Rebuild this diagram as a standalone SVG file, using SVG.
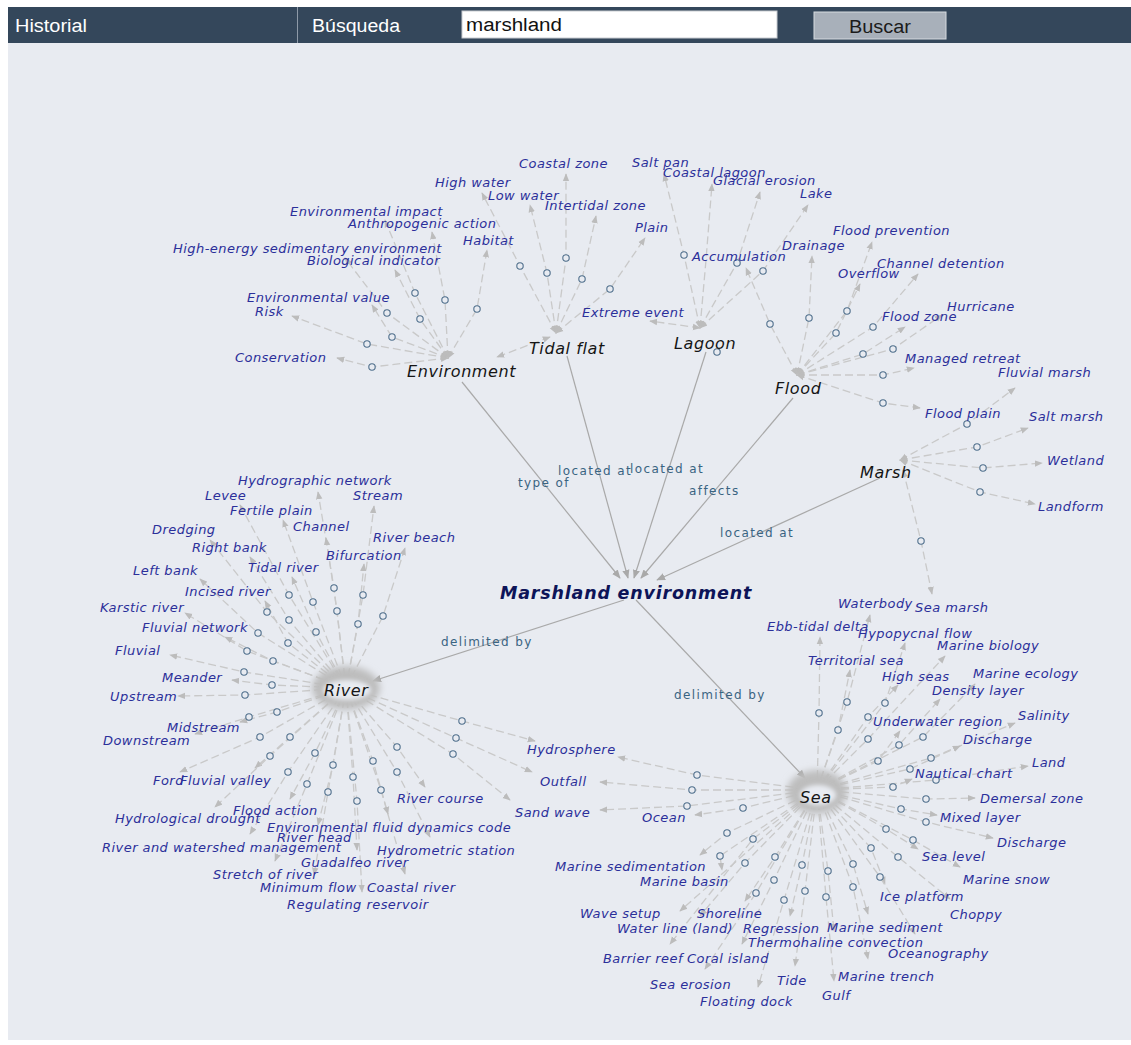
<svg xmlns="http://www.w3.org/2000/svg" width="1131" height="1045" viewBox="0 0 1131 1045">
<defs>
<style>
.lf{font-family:"DejaVu Sans",Verdana,sans-serif;font-size:13px;font-style:italic;fill:#2b2f9a;letter-spacing:0.45px}
.hb{font-family:"DejaVu Sans",Verdana,sans-serif;font-size:16px;font-style:italic;fill:#151515;letter-spacing:0.6px}
.rl{font-family:"DejaVu Sans",Verdana,sans-serif;font-size:12px;fill:#3a6482;letter-spacing:1.4px}
.d{fill:none;stroke:#c9c9c9;stroke-width:1.3;stroke-dasharray:8 4;marker-start:url(#ah);marker-end:url(#ah)}
.m{fill:none;stroke:#a9a9a9;stroke-width:1.2;marker-end:url(#am)}
.c{fill:#e8ebf1;stroke:#4f6f8c;stroke-width:1.1}
.hd{font-family:"Liberation Sans",Arial,sans-serif;font-size:18px}
</style>
<marker id="ah" viewBox="0 0 10 10" refX="9" refY="5" markerWidth="8" markerHeight="8" markerUnits="userSpaceOnUse" orient="auto-start-reverse"><path d="M0,1L10,5L0,9z" fill="#bcbcbc"/></marker>
<marker id="am" viewBox="0 0 10 10" refX="9" refY="5" markerWidth="9" markerHeight="9" markerUnits="userSpaceOnUse" orient="auto"><path d="M0,1L10,5L0,9z" fill="#a9a9a9"/></marker>
<filter id="bl" x="-50%" y="-50%" width="200%" height="200%"><feGaussianBlur stdDeviation="3.5"/></filter>
<filter id="bl2" x="-50%" y="-50%" width="200%" height="200%"><feGaussianBlur stdDeviation="2"/></filter>
</defs>
<rect width="1131" height="1045" fill="#ffffff"/>
<rect x="8" y="43" width="1123" height="997" fill="#e8ebf1"/>
<g id="header">
<rect x="8" y="7" width="1123" height="36" fill="#34475b"/>
<line x1="297.5" y1="7" x2="297.5" y2="43" stroke="#8e9aa8"/>
<text class="hd" x="15" y="32" fill="#ffffff" textLength="72" lengthAdjust="spacingAndGlyphs">Historial</text>
<text class="hd" x="312" y="32" fill="#ffffff" textLength="88" lengthAdjust="spacingAndGlyphs">Búsqueda</text>
<rect x="462" y="11" width="315" height="27" fill="#ffffff" stroke="#c9cdd2"/>
<text class="hd" x="466" y="31" fill="#111111" textLength="96" lengthAdjust="spacingAndGlyphs">marshland</text>
<rect x="814" y="12" width="132" height="27" fill="#a8b0ba" stroke="#d6dbe0"/>
<text class="hd" x="849" y="33" fill="#1b1b1b" textLength="62" lengthAdjust="spacingAndGlyphs">Buscar</text>
</g>
<g id="connectors">
<path class="m" d="M462 382L620 578"/>
<path class="m" d="M567 356L628 578"/>
<path class="m" d="M706 352L634 578"/>
<path class="m" d="M793 398L641 578"/>
<path class="m" d="M880 478L657 580"/>
<path class="m" d="M624 600L373 681"/>
<path class="m" d="M636 600L805 778"/>
<path class="d" d="M448 358L372 367L337 358"/>
<path class="d" d="M448 358L367 344L292 316"/>
<path class="d" d="M448 358L392 337L372 305"/>
<path class="d" d="M448 358L387 313L345 258"/>
<path class="d" d="M448 358L420 319L395 270"/>
<path class="d" d="M448 358L415 293L385 220"/>
<path class="d" d="M448 358L445 300L432 232"/>
<path class="d" d="M448 358L477 309L487 250"/>
<path class="d" d="M556 333L520 266L482 193"/>
<path class="d" d="M556 333L547 273L530 205"/>
<path class="d" d="M556 333L566 258L566 174"/>
<path class="d" d="M556 333L582 279L596 216"/>
<path class="d" d="M556 333L610 289L645 238"/>
<path class="d" d="M550 337L497 357"/>
<path class="d" d="M700 328L684 255L664 174"/>
<path class="d" d="M700 328L706 260L712 184"/>
<path class="d" d="M700 328L737 263L760 192"/>
<path class="d" d="M700 328L763 271L808 205"/>
<path class="d" d="M700 328L650 321"/>
<path class="d" d="M797 375L770 324L746 268"/>
<path class="d" d="M797 375L809 318L812 256"/>
<path class="d" d="M797 375L847 311L872 242"/>
<path class="d" d="M797 375L836 333L860 284"/>
<path class="d" d="M797 375L873 327L918 274"/>
<path class="d" d="M797 375L863 354L905 327"/>
<path class="d" d="M797 375L893 349L942 315"/>
<path class="d" d="M797 375L883 375L914 368"/>
<path class="d" d="M797 375L883 403L920 408"/>
<path class="d" d="M900 460L967 424L1015 388"/>
<path class="d" d="M900 460L977 447L1028 428"/>
<path class="d" d="M900 460L983 468L1042 463"/>
<path class="d" d="M900 460L980 492L1035 504"/>
<path class="d" d="M903 470L921 541L932 594"/>
<path class="d" d="M346 688L334 588L318 492"/>
<path class="d" d="M346 688L337 611L326 538"/>
<path class="d" d="M346 688L363 595L374 506"/>
<path class="d" d="M346 688L358 624L364 564"/>
<path class="d" d="M346 688L383 616L405 548"/>
<path class="d" d="M346 688L313 602L283 520"/>
<path class="d" d="M346 688L316 632L292 577"/>
<path class="d" d="M346 688L289 595L240 505"/>
<path class="d" d="M346 688L289 620L250 557"/>
<path class="d" d="M346 688L267 612L210 540"/>
<path class="d" d="M346 688L288 643L265 601"/>
<path class="d" d="M346 688L258 633L200 579"/>
<path class="d" d="M346 688L247 651L185 613"/>
<path class="d" d="M346 688L273 661L225 637"/>
<path class="d" d="M346 688L244 672L170 655"/>
<path class="d" d="M346 688L272 685L232 680"/>
<path class="d" d="M346 688L245 695L178 696"/>
<path class="d" d="M346 688L277 712L240 722"/>
<path class="d" d="M346 688L249 717L195 734"/>
<path class="d" d="M346 688L260 737L180 772"/>
<path class="d" d="M346 688L290 737L255 768"/>
<path class="d" d="M346 688L270 756L215 807"/>
<path class="d" d="M346 688L288 772L250 834"/>
<path class="d" d="M346 688L315 753L290 799"/>
<path class="d" d="M346 688L307 784L275 861"/>
<path class="d" d="M346 688L333 765L318 825"/>
<path class="d" d="M346 688L328 792L314 875"/>
<path class="d" d="M346 688L353 777L357 850"/>
<path class="d" d="M346 688L357 801L362 892"/>
<path class="d" d="M346 688L381 790L405 874"/>
<path class="d" d="M346 688L373 761L388 814"/>
<path class="d" d="M346 688L397 772L430 837"/>
<path class="d" d="M346 688L397 747L425 787"/>
<path class="d" d="M346 688L462 721L535 741"/>
<path class="d" d="M346 688L456 738L532 772"/>
<path class="d" d="M346 688L453 754L510 800"/>
<path class="d" d="M817 790L819 713L820 637"/>
<path class="d" d="M817 790L847 702L870 615"/>
<path class="d" d="M817 790L838 730L850 670"/>
<path class="d" d="M817 790L885 703L905 643"/>
<path class="d" d="M817 790L868 717L898 685"/>
<path class="d" d="M817 790L868 739L945 656"/>
<path class="d" d="M817 790L923 737L975 684"/>
<path class="d" d="M817 790L899 745L940 699"/>
<path class="d" d="M817 790L878 761L900 731"/>
<path class="d" d="M817 790L931 758L1015 723"/>
<path class="d" d="M817 790L910 769L960 746"/>
<path class="d" d="M817 790L936 780L1028 766"/>
<path class="d" d="M817 790L893 787L912 779"/>
<path class="d" d="M817 790L926 799L975 798"/>
<path class="d" d="M817 790L901 809L937 815"/>
<path class="d" d="M817 790L926 822L993 838"/>
<path class="d" d="M817 790L886 829L918 849"/>
<path class="d" d="M817 790L913 840L960 867"/>
<path class="d" d="M817 790L898 857L950 899"/>
<path class="d" d="M817 790L871 848L885 884"/>
<path class="d" d="M817 790L880 877L915 934"/>
<path class="d" d="M817 790L853 864L868 914"/>
<path class="d" d="M817 790L853 887L868 959"/>
<path class="d" d="M817 790L828 871L834 931"/>
<path class="d" d="M817 790L826 897L834 981"/>
<path class="d" d="M817 790L805 891L795 966"/>
<path class="d" d="M817 790L802 865L790 916"/>
<path class="d" d="M817 790L784 900L758 987"/>
<path class="d" d="M817 790L774 880L742 944"/>
<path class="d" d="M817 790L756 893L705 969"/>
<path class="d" d="M817 790L775 857L745 901"/>
<path class="d" d="M817 790L745 863L700 916"/>
<path class="d" d="M817 790L753 839L670 944"/>
<path class="d" d="M817 790L720 856L722 870"/>
<path class="d" d="M817 790L727 833L700 855"/>
<path class="d" d="M817 790L680 911"/>
<path class="d" d="M817 790L743 808L695 815"/>
<path class="d" d="M817 790L697 775L618 757"/>
<path class="d" d="M817 790L692 790L600 782"/>
<path class="d" d="M817 790L687 806L600 810"/>
<g>
<circle class="c" cx="372" cy="367" r="3.2"/><circle class="c" cx="367" cy="344" r="3.2"/><circle class="c" cx="392" cy="337" r="3.2"/><circle class="c" cx="387" cy="313" r="3.2"/><circle class="c" cx="420" cy="319" r="3.2"/><circle class="c" cx="415" cy="293" r="3.2"/><circle class="c" cx="445" cy="300" r="3.2"/><circle class="c" cx="477" cy="309" r="3.2"/>
<circle class="c" cx="520" cy="266" r="3.2"/><circle class="c" cx="547" cy="273" r="3.2"/><circle class="c" cx="566" cy="258" r="3.2"/><circle class="c" cx="582" cy="279" r="3.2"/><circle class="c" cx="610" cy="289" r="3.2"/>
<circle class="c" cx="684" cy="255" r="3.2"/><circle class="c" cx="737" cy="263" r="3.2"/><circle class="c" cx="763" cy="271" r="3.2"/><circle class="c" cx="717" cy="352" r="3.2"/>
<circle class="c" cx="770" cy="324" r="3.2"/><circle class="c" cx="809" cy="318" r="3.2"/><circle class="c" cx="847" cy="311" r="3.2"/><circle class="c" cx="836" cy="333" r="3.2"/><circle class="c" cx="873" cy="327" r="3.2"/><circle class="c" cx="863" cy="354" r="3.2"/><circle class="c" cx="893" cy="349" r="3.2"/><circle class="c" cx="883" cy="375" r="3.2"/><circle class="c" cx="883" cy="403" r="3.2"/>
<circle class="c" cx="967" cy="424" r="3.2"/><circle class="c" cx="977" cy="447" r="3.2"/><circle class="c" cx="983" cy="468" r="3.2"/><circle class="c" cx="980" cy="492" r="3.2"/><circle class="c" cx="921" cy="541" r="3.2"/>
<circle class="c" cx="334" cy="588" r="3.2"/><circle class="c" cx="337" cy="611" r="3.2"/><circle class="c" cx="363" cy="595" r="3.2"/><circle class="c" cx="358" cy="624" r="3.2"/><circle class="c" cx="383" cy="616" r="3.2"/><circle class="c" cx="313" cy="602" r="3.2"/><circle class="c" cx="316" cy="632" r="3.2"/><circle class="c" cx="289" cy="595" r="3.2"/><circle class="c" cx="289" cy="620" r="3.2"/><circle class="c" cx="267" cy="612" r="3.2"/><circle class="c" cx="288" cy="643" r="3.2"/><circle class="c" cx="258" cy="633" r="3.2"/><circle class="c" cx="247" cy="651" r="3.2"/><circle class="c" cx="273" cy="661" r="3.2"/><circle class="c" cx="244" cy="672" r="3.2"/><circle class="c" cx="272" cy="685" r="3.2"/><circle class="c" cx="245" cy="695" r="3.2"/><circle class="c" cx="277" cy="712" r="3.2"/><circle class="c" cx="249" cy="717" r="3.2"/>
<circle class="c" cx="260" cy="737" r="3.2"/><circle class="c" cx="290" cy="737" r="3.2"/><circle class="c" cx="270" cy="756" r="3.2"/><circle class="c" cx="288" cy="772" r="3.2"/><circle class="c" cx="315" cy="753" r="3.2"/><circle class="c" cx="307" cy="784" r="3.2"/><circle class="c" cx="333" cy="765" r="3.2"/><circle class="c" cx="328" cy="792" r="3.2"/><circle class="c" cx="353" cy="777" r="3.2"/><circle class="c" cx="357" cy="801" r="3.2"/><circle class="c" cx="381" cy="790" r="3.2"/><circle class="c" cx="373" cy="761" r="3.2"/><circle class="c" cx="397" cy="772" r="3.2"/><circle class="c" cx="397" cy="747" r="3.2"/><circle class="c" cx="462" cy="721" r="3.2"/><circle class="c" cx="456" cy="738" r="3.2"/><circle class="c" cx="453" cy="754" r="3.2"/>
<circle class="c" cx="819" cy="713" r="3.2"/><circle class="c" cx="847" cy="702" r="3.2"/><circle class="c" cx="838" cy="730" r="3.2"/><circle class="c" cx="885" cy="703" r="3.2"/><circle class="c" cx="868" cy="717" r="3.2"/><circle class="c" cx="868" cy="739" r="3.2"/><circle class="c" cx="923" cy="737" r="3.2"/><circle class="c" cx="899" cy="745" r="3.2"/><circle class="c" cx="878" cy="761" r="3.2"/><circle class="c" cx="931" cy="758" r="3.2"/><circle class="c" cx="910" cy="769" r="3.2"/><circle class="c" cx="936" cy="780" r="3.2"/><circle class="c" cx="893" cy="787" r="3.2"/><circle class="c" cx="926" cy="799" r="3.2"/><circle class="c" cx="901" cy="809" r="3.2"/><circle class="c" cx="926" cy="822" r="3.2"/><circle class="c" cx="886" cy="829" r="3.2"/><circle class="c" cx="913" cy="840" r="3.2"/><circle class="c" cx="898" cy="857" r="3.2"/><circle class="c" cx="871" cy="848" r="3.2"/><circle class="c" cx="880" cy="877" r="3.2"/><circle class="c" cx="853" cy="864" r="3.2"/>
<circle class="c" cx="853" cy="887" r="3.2"/><circle class="c" cx="828" cy="871" r="3.2"/><circle class="c" cx="826" cy="897" r="3.2"/><circle class="c" cx="805" cy="891" r="3.2"/><circle class="c" cx="802" cy="865" r="3.2"/><circle class="c" cx="784" cy="900" r="3.2"/><circle class="c" cx="774" cy="880" r="3.2"/><circle class="c" cx="756" cy="893" r="3.2"/><circle class="c" cx="775" cy="857" r="3.2"/><circle class="c" cx="745" cy="863" r="3.2"/><circle class="c" cx="753" cy="839" r="3.2"/><circle class="c" cx="720" cy="856" r="3.2"/><circle class="c" cx="727" cy="833" r="3.2"/><circle class="c" cx="743" cy="808" r="3.2"/><circle class="c" cx="697" cy="775" r="3.2"/><circle class="c" cx="692" cy="790" r="3.2"/><circle class="c" cx="687" cy="806" r="3.2"/>
</g>
<text class="rl" x="518" y="487">type of</text>
<text class="rl" x="558" y="475">located at</text>
<text class="rl" x="630" y="473">located at</text>
<text class="rl" x="689" y="495">affects</text>
<text class="rl" x="720" y="537">located at</text>
<text class="rl" x="441" y="646">delimited by</text>
<text class="rl" x="674" y="699">delimited by</text>
</g>
<g id="hub-glow">
<ellipse cx="346" cy="688" rx="34" ry="22" fill="#bdbdbd" filter="url(#bl)"/>
<ellipse cx="347" cy="690" rx="24" ry="10" fill="#e8ebf1" filter="url(#bl2)"/>
<ellipse cx="817" cy="792" rx="30" ry="22" fill="#bdbdbd" filter="url(#bl)"/>
<ellipse cx="818" cy="795" rx="18" ry="10" fill="#e8ebf1" filter="url(#bl2)"/>
</g>
<g id="n-marshland-environment"><text x="500" y="599" style="font-family:'DejaVu Sans',Verdana,sans-serif;font-size:17.5px;font-weight:bold;font-style:italic;fill:#0d1458;letter-spacing:0.8px">Marshland environment</text></g>
<g id="n-environment"><text class="hb" x="407" y="377">Environment</text></g>
<g id="n-tidal-flat"><text class="hb" x="529" y="354">Tidal flat</text></g>
<g id="n-lagoon"><text class="hb" x="674" y="349">Lagoon</text></g>
<g id="n-flood"><text class="hb" x="775" y="394">Flood</text></g>
<g id="n-marsh"><text class="hb" x="860" y="478">Marsh</text></g>
<g id="n-river"><text class="hb" x="324" y="696">River</text></g>
<g id="n-sea"><text class="hb" x="800" y="803">Sea</text></g>
<g id="leaves">
<g id="n-env-impact"><text class="lf" x="290" y="216">Environmental impact</text></g>
<g id="n-anthropogenic"><text class="lf" x="348" y="228">Anthropogenic action</text></g>
<g id="n-habitat"><text class="lf" x="463" y="245">Habitat</text></g>
<g id="n-high-energy"><text class="lf" x="173" y="253">High-energy sedimentary environment</text></g>
<g id="n-bio-indicator"><text class="lf" x="307" y="265">Biological indicator</text></g>
<g id="n-env-value"><text class="lf" x="247" y="302">Environmental value</text></g>
<g id="n-risk"><text class="lf" x="255" y="316">Risk</text></g>
<g id="n-conservation"><text class="lf" x="235" y="362">Conservation</text></g>
<g id="n-high-water"><text class="lf" x="435" y="187">High water</text></g>
<g id="n-low-water"><text class="lf" x="488" y="200">Low water</text></g>
<g id="n-coastal-zone"><text class="lf" x="519" y="168">Coastal zone</text></g>
<g id="n-intertidal"><text class="lf" x="545" y="210">Intertidal zone</text></g>
<g id="n-plain"><text class="lf" x="635" y="232">Plain</text></g>
<g id="n-salt-pan"><text class="lf" x="632" y="167">Salt pan</text></g>
<g id="n-coastal-lagoon"><text class="lf" x="663" y="177">Coastal lagoon</text></g>
<g id="n-glacial"><text class="lf" x="713" y="185">Glacial erosion</text></g>
<g id="n-lake"><text class="lf" x="800" y="198">Lake</text></g>
<g id="n-extreme"><text class="lf" x="582" y="317">Extreme event</text></g>
<g id="n-accumulation"><text class="lf" x="692" y="261">Accumulation</text></g>
<g id="n-drainage"><text class="lf" x="782" y="250">Drainage</text></g>
<g id="n-flood-prevention"><text class="lf" x="833" y="235">Flood prevention</text></g>
<g id="n-overflow"><text class="lf" x="838" y="278">Overflow</text></g>
<g id="n-channel-detention"><text class="lf" x="877" y="268">Channel detention</text></g>
<g id="n-hurricane"><text class="lf" x="947" y="311">Hurricane</text></g>
<g id="n-flood-zone"><text class="lf" x="882" y="321">Flood zone</text></g>
<g id="n-managed-retreat"><text class="lf" x="905" y="363">Managed retreat</text></g>
<g id="n-fluvial-marsh"><text class="lf" x="998" y="377">Fluvial marsh</text></g>
<g id="n-flood-plain"><text class="lf" x="925" y="418">Flood plain</text></g>
<g id="n-salt-marsh"><text class="lf" x="1029" y="421">Salt marsh</text></g>
<g id="n-wetland"><text class="lf" x="1047" y="465">Wetland</text></g>
<g id="n-landform"><text class="lf" x="1038" y="511">Landform</text></g>
<g id="n-sea-marsh"><text class="lf" x="915" y="612">Sea marsh</text></g>
<g id="n-hydrographic"><text class="lf" x="238" y="485">Hydrographic network</text></g>
<g id="n-levee"><text class="lf" x="205" y="500">Levee</text></g>
<g id="n-stream"><text class="lf" x="353" y="500">Stream</text></g>
<g id="n-fertile"><text class="lf" x="230" y="515">Fertile plain</text></g>
<g id="n-dredging"><text class="lf" x="152" y="534">Dredging</text></g>
<g id="n-channel"><text class="lf" x="293" y="531">Channel</text></g>
<g id="n-river-beach"><text class="lf" x="373" y="542">River beach</text></g>
<g id="n-right-bank"><text class="lf" x="192" y="552">Right bank</text></g>
<g id="n-bifurcation"><text class="lf" x="326" y="560">Bifurcation</text></g>
<g id="n-left-bank"><text class="lf" x="133" y="575">Left bank</text></g>
<g id="n-tidal-river"><text class="lf" x="248" y="572">Tidal river</text></g>
<g id="n-incised"><text class="lf" x="185" y="596">Incised river</text></g>
<g id="n-karstic"><text class="lf" x="100" y="612">Karstic river</text></g>
<g id="n-fluvial-network"><text class="lf" x="142" y="632">Fluvial network</text></g>
<g id="n-fluvial"><text class="lf" x="115" y="655">Fluvial</text></g>
<g id="n-meander"><text class="lf" x="162" y="682">Meander</text></g>
<g id="n-upstream"><text class="lf" x="110" y="701">Upstream</text></g>
<g id="n-midstream"><text class="lf" x="167" y="732">Midstream</text></g>
<g id="n-downstream"><text class="lf" x="103" y="745">Downstream</text></g>
<g id="n-ford"><text class="lf" x="153" y="785">Ford</text></g>
<g id="n-fluvial-valley"><text class="lf" x="180" y="785">Fluvial valley</text></g>
<g id="n-flood-action"><text class="lf" x="233" y="815">Flood action</text></g>
<g id="n-hydro-drought"><text class="lf" x="115" y="823">Hydrological drought</text></g>
<g id="n-efdc"><text class="lf" x="267" y="832">Environmental fluid dynamics code</text></g>
<g id="n-river-head"><text class="lf" x="277" y="842">River head</text></g>
<g id="n-rwm"><text class="lf" x="102" y="852">River and watershed management</text></g>
<g id="n-hydrometric"><text class="lf" x="377" y="855">Hydrometric station</text></g>
<g id="n-guadalfeo"><text class="lf" x="301" y="867">Guadalfeo river</text></g>
<g id="n-stretch"><text class="lf" x="213" y="879">Stretch of river</text></g>
<g id="n-min-flow"><text class="lf" x="260" y="892">Minimum flow</text></g>
<g id="n-coastal-river"><text class="lf" x="367" y="892">Coastal river</text></g>
<g id="n-regulating"><text class="lf" x="287" y="909">Regulating reservoir</text></g>
<g id="n-river-course"><text class="lf" x="397" y="803">River course</text></g>
<g id="n-hydrosphere"><text class="lf" x="527" y="754">Hydrosphere</text></g>
<g id="n-outfall"><text class="lf" x="540" y="786">Outfall</text></g>
<g id="n-sand-wave"><text class="lf" x="515" y="817">Sand wave</text></g>
<g id="n-ocean"><text class="lf" x="642" y="822">Ocean</text></g>
<g id="n-waterbody"><text class="lf" x="838" y="608">Waterbody</text></g>
<g id="n-ebb"><text class="lf" x="767" y="631">Ebb-tidal delta</text></g>
<g id="n-hypopycnal"><text class="lf" x="858" y="638">Hypopycnal flow</text></g>
<g id="n-marine-biology"><text class="lf" x="937" y="650">Marine biology</text></g>
<g id="n-territorial"><text class="lf" x="808" y="665">Territorial sea</text></g>
<g id="n-high-seas"><text class="lf" x="882" y="681">High seas</text></g>
<g id="n-marine-ecology"><text class="lf" x="973" y="678">Marine ecology</text></g>
<g id="n-density"><text class="lf" x="932" y="695">Density layer</text></g>
<g id="n-underwater"><text class="lf" x="873" y="726">Underwater region</text></g>
<g id="n-salinity"><text class="lf" x="1018" y="720">Salinity</text></g>
<g id="n-discharge1"><text class="lf" x="963" y="744">Discharge</text></g>
<g id="n-land"><text class="lf" x="1032" y="767">Land</text></g>
<g id="n-nautical"><text class="lf" x="915" y="778">Nautical chart</text></g>
<g id="n-demersal"><text class="lf" x="980" y="803">Demersal zone</text></g>
<g id="n-mixed"><text class="lf" x="940" y="822">Mixed layer</text></g>
<g id="n-discharge2"><text class="lf" x="997" y="847">Discharge</text></g>
<g id="n-sea-level"><text class="lf" x="922" y="861">Sea level</text></g>
<g id="n-marine-snow"><text class="lf" x="963" y="884">Marine snow</text></g>
<g id="n-ice"><text class="lf" x="880" y="901">Ice platform</text></g>
<g id="n-choppy"><text class="lf" x="950" y="919">Choppy</text></g>
<g id="n-marine-sedimentation"><text class="lf" x="555" y="871">Marine sedimentation</text></g>
<g id="n-marine-basin"><text class="lf" x="640" y="886">Marine basin</text></g>
<g id="n-wave-setup"><text class="lf" x="580" y="918">Wave setup</text></g>
<g id="n-shoreline"><text class="lf" x="697" y="918">Shoreline</text></g>
<g id="n-water-line"><text class="lf" x="617" y="933">Water line (land)</text></g>
<g id="n-regression"><text class="lf" x="743" y="933">Regression</text></g>
<g id="n-marine-sediment"><text class="lf" x="827" y="932">Marine sediment</text></g>
<g id="n-thermohaline"><text class="lf" x="748" y="947">Thermohaline convection</text></g>
<g id="n-oceanography"><text class="lf" x="888" y="958">Oceanography</text></g>
<g id="n-barrier-reef"><text class="lf" x="603" y="963">Barrier reef</text></g>
<g id="n-coral-island"><text class="lf" x="687" y="963">Coral island</text></g>
<g id="n-tide"><text class="lf" x="777" y="985">Tide</text></g>
<g id="n-marine-trench"><text class="lf" x="838" y="981">Marine trench</text></g>
<g id="n-sea-erosion"><text class="lf" x="650" y="989">Sea erosion</text></g>
<g id="n-gulf"><text class="lf" x="822" y="1000">Gulf</text></g>
<g id="n-floating-dock"><text class="lf" x="700" y="1006">Floating dock</text></g>
</g>
</svg>
